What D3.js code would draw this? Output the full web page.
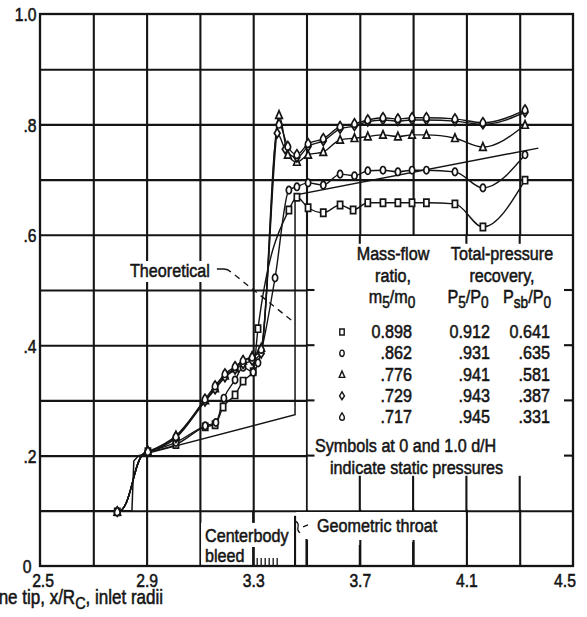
<!DOCTYPE html>
<html>
<head>
<meta charset="utf-8">
<script src="https://cdn.jsdelivr.net/npm/d3@7"></script>
<style>
  html, body { margin: 0; padding: 0; background: #fff; }
  svg { display: block; }
  text { font-family: "Liberation Sans", Arial, sans-serif; fill: #141414; stroke: #141414; stroke-width: 0.55px; }
</style>
</head>
<body>
<svg id="chart" width="587" height="617"></svg>
<script>
// ---- axis ticks and grid ----
const xTickValues = [2.5, 2.9, 3.3, 3.7, 4.1, 4.5];
const xTickLabels = ["2.5", "2.9", "3.3", "3.7", "4.1", "4.5"];
const yTickValues = [0, 0.2, 0.4, 0.6, 0.8, 1.0];
const yTickLabels = ["0", ".2", ".4", ".6", ".8", "1.0"];
const xGridValues = [2.7, 2.9, 3.1, 3.3, 3.5, 3.7, 3.9, 4.1, 4.3];
const yGridValues = [0.1, 0.2, 0.3, 0.4, 0.5, 0.6, 0.7, 0.8, 0.9];

// ---- legend table ----
const seriesSymbols = ["square", "circle", "triangle", "diamond", "flag"];
const massFlowRatio = ["0.898", ".862", ".776", ".729", ".717"];
const recoveryP5 = ["0.912", ".931", ".941", ".943", ".945"];
const recoveryPsb = ["0.641", ".635", ".581", ".387", ".331"];

// ---- theoretical static-pressure distribution [x/Rc, p/P0] ----
const theoretical = [[2.5, 0.1], [2.845, 0.1], [2.852, 0.19], [2.87, 0.2], [3.457, 0.274],
                     [3.457, 0.672], [4.37, 0.757]];

// ---- measured static pressures, one list per mass-flow ratio [x/Rc, p/P0] ----
const seriesSquare = [[2.79, .098], [2.905, .207], [3.01, .220], [3.12, .252], [3.157, .256], [3.187, .288],
  [3.232, .310], [3.262, .335], [3.30, .352], [3.318, .430], [3.434, .645], [3.464, .668], [3.506, .649],
  [3.563, .640], [3.626, .654], [3.675, .645], [3.73, .658], [3.787, .658], [3.843, .658], [3.896, .658],
  [3.95, .658], [4.057, .656], [4.162, .614], [4.32, .699]];
const seriesCircle = [[2.79, .098], [2.905, .207], [3.01, .224], [3.12, .254], [3.16, .260], [3.19, .304],
  [3.232, .337], [3.262, .360], [3.30, .351], [3.318, .368], [3.382, .522], [3.434, .681], [3.464, .687],
  [3.506, .694], [3.563, .690], [3.626, .710], [3.68, .707], [3.73, .716], [3.787, .717], [3.843, .714],
  [3.896, .717], [3.95, .717], [4.057, .714], [4.162, .685], [4.32, .745]];
const seriesTriangle = [[2.79, .098], [2.905, .207], [3.01, .236], [3.12, .300], [3.157, .322], [3.194, .345],
  [3.232, .358], [3.262, .372], [3.296, .380], [3.33, .395], [3.397, .817], [3.43, .745], [3.464, .732],
  [3.506, .745], [3.563, .750], [3.626, .772], [3.68, .775], [3.73, .778], [3.787, .781], [3.843, .778],
  [3.896, .781], [3.95, .781], [4.057, .775], [4.162, .759], [4.32, .799]];
const seriesDiamond = [[2.79, .098], [2.905, .207], [3.01, .232], [3.119, .298], [3.157, .320], [3.194, .342],
  [3.232, .356], [3.262, .366], [3.296, .372], [3.33, .385], [3.39, .784], [3.42, .755], [3.464, .740],
  [3.506, .760], [3.563, .770], [3.626, .792], [3.68, .797], [3.73, .805], [3.787, .808], [3.843, .806],
  [3.896, .808], [3.95, .808], [4.057, .806], [4.162, .800], [4.32, .822]];
const seriesFlag = [[2.79, .098], [2.905, .207], [3.01, .234], [3.119, .302], [3.157, .326], [3.194, .348],
  [3.232, .361], [3.262, .372], [3.296, .378], [3.33, .392], [3.397, .800], [3.43, .760], [3.464, .745],
  [3.506, .765], [3.563, .774], [3.626, .796], [3.68, .801], [3.73, .808], [3.787, .812], [3.843, .810],
  [3.896, .812], [3.95, .812], [4.057, .810], [4.162, .803], [4.32, .826]];
const seriesData = [seriesSquare, seriesCircle, seriesTriangle, seriesDiamond, seriesFlag];

// ---- drawing ----
const INK = "#141414";
const NARROW = 0.85;          // horizontal squeeze giving the condensed lettering
const fontPx = 19;
const svg = d3.select("#chart");
const x = d3.scaleLinear().domain([2.5, 4.5]).range([40, 573]);
const y = d3.scaleLinear().domain([0, 1]).range([566, 14]);
const plotW = x(4.5) - x(2.5), plotH = y(0) - y(1);

// grid lines
const gx = svg.append("g").attr("transform", `translate(0,${y(0)})`)
  .call(d3.axisBottom(x).tickValues(xGridValues).tickSize(-plotH).tickFormat(""));
const gy = svg.append("g").attr("transform", `translate(${x(2.5)},0)`)
  .call(d3.axisLeft(y).tickValues(yGridValues).tickSize(-plotW).tickFormat(""));
[gx, gy].forEach(g => {
  g.select(".domain").remove();
  g.selectAll("line").attr("stroke", INK).attr("stroke-width", 2.1);
});

// blank panels (legend box, label areas)
const blank = (x0, x1, y0, y1) => svg.append("rect")
  .attr("x", Math.min(x0, x1)).attr("y", Math.min(y0, y1))
  .attr("width", Math.abs(x1 - x0)).attr("height", Math.abs(y1 - y0)).attr("fill", "#fff");
blank(x(3.5) + 1.2, x(4.5) - 1.2, y(0.6) + 1.2, y(0.1) - 1.2);           // legend
blank(x(3.1) + 1.2, x(3.457) - 1.2, y(0.1) + 12, y(0) - 19);             // "Centerbody"
blank(x(3.1) + 1.2, x(3.3) - 1.5, y(0) - 20, y(0) - 1.2);                 // "bleed"
blank(x(3.457) + 1.2, x(4.1) - 1.2, y(0.1) + 1.2, y(0) - 26);             // "Geometric throat"
blank(127, 215, 261, 282);                                                // "Theoretical"

// outer frame
svg.append("rect").attr("x", x(2.5)).attr("y", y(1)).attr("width", plotW).attr("height", plotH)
  .attr("fill", "none").attr("stroke", INK).attr("stroke-width", 2.3);

// tick stubs around the legend box
const stub = (x1, y1, x2, y2, w = 2.1) => svg.append("line").attr("x1", x1).attr("y1", y1)
  .attr("x2", x2).attr("y2", y2).attr("stroke", INK).attr("stroke-width", w);
[3.7, 4.1, 4.3].forEach(v => stub(x(v), y(0.6), x(v), y(0.6) + 9));
[3.7, 3.9, 4.1, 4.3].forEach(v => stub(x(v), y(0.1), x(v), y(0.1) - 35));
[0.2, 0.3, 0.4, 0.5].forEach(v => {
  stub(x(3.5), y(v), x(3.5) + 8, y(v));
  stub(x(4.5), y(v), x(4.5) - 9, y(v));
});
// centerbody bleed / geometric throat marks
stub(x(3.3), y(0.1), x(3.3), y(0.1) + 12);
stub(x(3.3), y(0) - 19, x(3.3), y(0));
stub(x(3.457), y(0.1) + 5, x(3.457), y(0));
stub(x(3.7), y(0) - 21, x(3.7), y(0));
stub(x(3.9), y(0) - 24, x(3.9), y(0));
stub(x(3.5), y(0) - 27, x(3.5), y(0));
[3.315, 3.33, 3.345, 3.36, 3.375, 3.39].forEach(v => stub(x(v), y(0) - 8, x(v), y(0), 1.3));
svg.append("path")
  .attr("d", `M${x(3.457)},${y(0.1) + 10} q4,2 3,6 q-1,4 2,6 M${x(3.457) + 8},${y(0.1) + 16} l5,-2`)
  .attr("fill", "none").attr("stroke", INK).attr("stroke-width", 1.3);

// tick labels
const axX = svg.append("g").attr("transform", `translate(0,${y(0)})`)
  .call(d3.axisBottom(x).tickValues(xTickValues).tickSize(0).tickPadding(8)
    .tickFormat((d, i) => xTickLabels[i]));
const axY = svg.append("g").attr("transform", `translate(${x(2.5)},0)`)
  .call(d3.axisLeft(y).tickValues(yTickValues).tickSize(0).tickPadding(4)
    .tickFormat((d, i) => yTickLabels[i]));
[axX, axY].forEach(g => {
  g.select(".domain").remove();
  g.selectAll("text").attr("font-size", 18.5).attr("fill", INK)
    .style("font-family", '"Liberation Sans", Arial, sans-serif')
    .attr("transform", `scale(${NARROW},1)`);
});
axY.selectAll("text").attr("dy", "0.37em").attr("dx", d => d === 0 ? -6 : 0);
axX.selectAll("text").attr("dx", (d, i) => i === 0 ? 3 : (i === xTickLabels.length - 1 ? -10 : 0));

// text helper with subscripts: parts = [[string, isSub], ...]
function label(px, py, parts, anchor = "start", size = fontPx) {
  const t = svg.append("text")
    .attr("transform", `translate(${px},${py}) scale(${NARROW},1)`)
    .attr("text-anchor", anchor).attr("font-size", size);
  let low = false;
  parts.forEach(([s, sub]) => {
    const sp = t.append("tspan").text(s);
    if (sub && !low) { sp.attr("dy", 5).attr("font-size", size - 3); low = true; }
    else if (!sub && low) { sp.attr("dy", -5); low = false; }
    else if (sub) sp.attr("font-size", size - 3);
  });
  return t;
}

// axis title
label(163, 604, [["Distance from cone tip, x/R", false], ["C", true], [", inlet radii", false]], "end", 20);

// theoretical curve and its leader
svg.append("path").datum(theoretical)
  .attr("d", d3.line().x(d => x(d[0])).y(d => y(d[1])))
  .attr("fill", "none").attr("stroke", INK).attr("stroke-width", 1.5);
label(130, 277, [["Theoretical", false]]);
svg.append("path")
  .attr("d", `M${x(3.16) + 1},${y(0.538)} l7,0 q4,0 7,3`)
  .attr("fill", "none").attr("stroke", INK).attr("stroke-width", 1.3);
svg.append("line")
  .attr("x1", x(3.16) + 19).attr("y1", y(0.538) + 6).attr("x2", x(3.457)).attr("y2", y(0.44))
  .attr("stroke", INK).attr("stroke-width", 1.3).attr("stroke-dasharray", "6,5");

// measured distributions: the rise through the cone shock is faired with level
// ends, the rest of each run with a monotone curve
const riseLine = d3.line().x(d => x(d[0])).y(d => y(d[1])).curve(d3.curveBumpX);
const line = d3.line().x(d => x(d[0])).y(d => y(d[1])).curve(d3.curveMonotoneX);
seriesData.forEach(s => {
  svg.append("path").datum(s.slice(0, 2)).attr("d", riseLine)
    .attr("fill", "none").attr("stroke", INK).attr("stroke-width", 1.4);
  svg.append("path").datum(s.slice(1)).attr("d", line)
    .attr("fill", "none").attr("stroke", INK).attr("stroke-width", 1.4);
});

function symbolPath(kind, k = 1) {
  const p = d3.path();
  if (kind === "square") { p.rect(-2.6 * k, -3.6 * k, 5.2 * k, 7.2 * k); return p.toString(); }
  if (kind === "circle") {
    return `M0,${-3.7 * k}A${2.6 * k},${3.7 * k} 0 1,1 0,${3.7 * k}A${2.6 * k},${3.7 * k} 0 1,1 0,${-3.7 * k}Z`;
  }
  if (kind === "triangle") return `M0,${-4.3 * k}L${3.3 * k},${3.3 * k}L${-3.3 * k},${3.3 * k}Z`;
  if (kind === "diamond") return `M0,${-4.8 * k}L${2.9 * k},0L0,${4.4 * k}L${-2.9 * k},0Z`;
  // flagged symbol: round body with a point on top
  return `M0,${-5 * k}C${1.4 * k},${-3 * k} ${2.8 * k},${-1.6 * k} ${2.8 * k},${0.6 * k}` +
         `C${2.8 * k},${2.6 * k} ${1.5 * k},${3.6 * k} 0,${3.6 * k}` +
         `C${-1.5 * k},${3.6 * k} ${-2.8 * k},${2.6 * k} ${-2.8 * k},${0.6 * k}` +
         `C${-2.8 * k},${-1.6 * k} ${-1.4 * k},${-3 * k} 0,${-5 * k}Z`;
}

seriesData.forEach((s, i) => {
  svg.append("g").selectAll("path").data(s).join("path")
    .attr("transform", d => `translate(${x(d[0])},${y(d[1])})`)
    .attr("d", symbolPath(seriesSymbols[i]))
    .attr("fill", "#fff").attr("stroke", INK).attr("stroke-width", 1.7);
});

// legend table
label(393, 260, [["Mass-flow", false]], "middle");
label(502, 260, [["Total-pressure", false]], "middle");
label(393, 282, [["ratio,", false]], "middle");
label(502, 282, [["recovery,", false]], "middle");
label(392, 303, [["m", false], ["5", true], ["/m", false], ["0", true]], "middle");
label(468, 303, [["P", false], ["5", true], ["/P", false], ["0", true]], "middle");
label(527, 303, [["P", false], ["sb", true], ["/P", false], ["0", true]], "middle");
seriesSymbols.forEach((sym, i) => {
  const by = 338 + i * 21.3;
  svg.append("path").attr("transform", `translate(342,${by - 6})`)
    .attr("d", symbolPath(sym, 0.85)).attr("fill", "#fff").attr("stroke", INK).attr("stroke-width", 1.4);
  label(412, by, [[massFlowRatio[i], false]], "end");
  label(490, by, [[recoveryP5[i], false]], "end");
  label(550, by, [[recoveryPsb[i], false]], "end");
});
label(315, 452, [["Symbols at 0 and 1.0 d/H", false]]);
label(330, 474, [["indicate static pressures", false]]);

// lower annotations
label(205, 542, [["Centerbody", false]]);
label(205, 562, [["bleed", false]]);
label(317, 532, [["Geometric throat", false]]);
</script>
</body>
</html>
